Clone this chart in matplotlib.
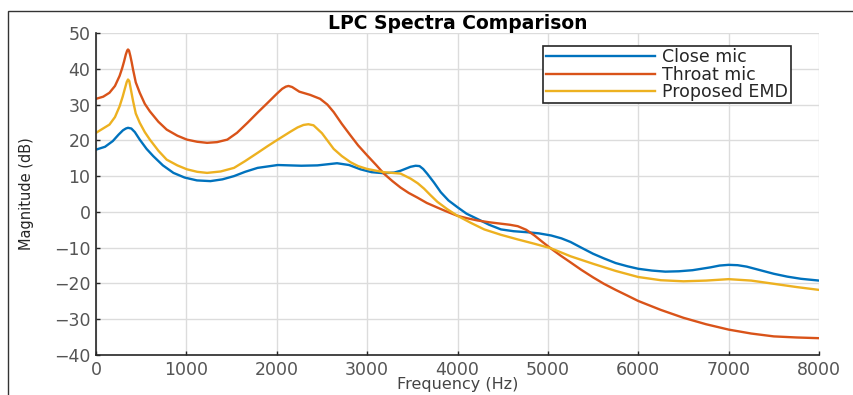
import matplotlib
matplotlib.use("Agg")
import matplotlib.pyplot as plt
from matplotlib.patches import Rectangle

# values (Hz, dB)
close_f = [0, 100, 186, 250, 298, 330, 354, 391, 430, 484, 560, 633, 740, 857, 980, 1117, 1266,
           1400, 1527, 1650, 1788, 2011, 2272, 2450, 2667, 2800, 2926, 3050, 3185, 3300, 3370,
           3430, 3480, 3537, 3580, 3620, 3667, 3740, 3815, 3900, 4000, 4100, 4222, 4350, 4481,
           4620, 4778, 4900, 5037, 5150, 5250, 5370, 5500, 5620, 5750, 5880, 6000, 6150, 6300,
           6450, 6600, 6800, 6900, 7000, 7100, 7200, 7350, 7500, 7650, 7800, 8000]
close_db = [17.4, 18.2, 19.8, 21.6, 22.8, 23.3, 23.5, 23.3, 22.3, 20.2, 17.6, 15.6, 13.0, 10.9, 9.6, 8.8, 8.6,
            9.1, 10.0, 11.2, 12.3, 13.1, 12.9, 13.0, 13.6, 13.1, 11.9, 11.1, 10.8, 11.0, 11.5,
            12.1, 12.6, 12.9, 12.8, 12.0, 10.6, 8.2, 5.5, 3.2, 1.3, -0.5, -2.0, -3.6, -4.9,
            -5.4, -5.7, -6.0, -6.6, -7.4, -8.4, -10.0, -11.7, -13.0, -14.3, -15.2, -15.9, -16.4, -16.7,
            -16.6, -16.3, -15.5, -15.0, -14.8, -14.9, -15.3, -16.3, -17.3, -18.1, -18.7, -19.2]

throat_f = [0, 80, 149, 210, 261, 290, 310, 330, 345, 354, 365, 380, 395, 410, 440, 484, 540, 596,
            690, 782, 900, 1006, 1120, 1229, 1340, 1453, 1560, 1676, 1790, 1900, 2000, 2060, 2100,
            2130, 2170, 2250, 2370, 2480, 2560, 2630, 2720, 2815, 2900, 3000, 3100, 3185, 3280,
            3370, 3460, 3556, 3660, 3778, 3890, 4000, 4110, 4222, 4350, 4481, 4580, 4667, 4760,
            4852, 4940, 5037, 5140, 5250, 5370, 5500, 5620, 5750, 5880, 6000, 6250, 6500, 6750,
            7000, 7250, 7500, 7750, 8000]
throat_db = [31.6, 32.2, 33.3, 35.2, 38.0, 40.2, 42.0, 44.0, 45.1, 45.4, 45.1, 43.6, 41.8, 39.8, 36.2, 33.3, 30.2, 28.1,
             25.2, 23.0, 21.3, 20.2, 19.6, 19.3, 19.5, 20.2, 22.1, 24.9, 27.8, 30.5, 33.0, 34.4, 35.0,
             35.2, 34.9, 33.6, 32.7, 31.6, 30.0, 27.9, 24.6, 21.4, 18.6, 15.8, 13.1, 10.7, 8.6,
             6.8, 5.3, 4.0, 2.5, 1.2, 0.0, -1.1, -1.8, -2.4, -2.9, -3.3, -3.6, -4.0, -5.0,
             -6.6, -8.4, -10.3, -12.2, -14.1, -16.2, -18.3, -20.1, -21.8, -23.4, -24.9, -27.4, -29.6, -31.4,
             -32.9, -34.0, -34.8, -35.1, -35.3]

emd_f = [0, 149, 210, 261, 295, 320, 340, 354, 368, 380, 395, 410, 440, 484, 540, 596, 690, 782,
         900, 1006, 1120, 1229, 1380, 1527, 1650, 1788, 1900, 2011, 2150, 2230, 2296, 2350, 2407,
         2500, 2630, 2720, 2815, 2900, 3000, 3185, 3370, 3481, 3560, 3630, 3700, 3778, 3890, 4000,
         4150, 4296, 4480, 4667, 4850, 5037, 5250, 5500, 5750, 6000, 6250, 6500, 6750, 7000, 7250,
         7500, 7750, 8000]
emd_db = [22.1, 24.4, 26.5, 29.5, 32.2, 34.5, 36.3, 37.0, 36.6, 35.0, 33.0, 31.0, 27.5, 24.9, 22.3, 20.2, 17.1, 14.6,
          13.0, 11.9, 11.2, 10.9, 11.3, 12.3, 14.2, 16.5, 18.4, 20.2, 22.4, 23.6, 24.3, 24.5, 24.2,
          22.0, 17.6, 15.6, 13.9, 12.8, 12.0, 11.1, 10.7, 9.3, 8.0, 6.5, 4.7, 2.8, 0.7, -1.1,
          -3.1, -4.9, -6.4, -7.7, -8.9, -10.2, -12.4, -14.5, -16.5, -18.2, -19.1, -19.4, -19.2, -18.8, -19.2,
          -20.1, -21.0, -21.8]

labels = ["Close mic", "Throat mic", "Proposed EMD"]
colors = ["#0072BD", "#D95319", "#EDB120"]

fig = plt.figure(figsize=(8.54, 3.95), dpi=100)
ax = fig.add_axes([96 / 854, 40 / 395, 723 / 854, 322 / 395])

for f, db, lab, c in zip([close_f, throat_f, emd_f], [close_db, throat_db, emd_db], labels, colors):
    ax.plot(f, db, color=c, lw=1.7, label=lab)

ax.set_xlim(0, 8000)
ax.set_ylim(-40, 50)
ax.set_xticks(range(0, 8001, 1000))
ax.set_yticks(range(-40, 51, 10))
ax.grid(True, color="#dcdcdc", lw=1)
ax.set_axisbelow(True)

for s in ["top", "right"]:
    ax.spines[s].set_visible(False)
for s in ["left", "bottom"]:
    ax.spines[s].set_color("#262626")
    ax.spines[s].set_linewidth(1.2)

ax.tick_params(direction="in", length=3, width=1, colors="#262626",
               labelcolor="#555555", labelsize=12.5, pad=4)

ax.set_title("LPC Spectra Comparison", fontsize=13.5, fontweight="bold", pad=3)
ax.set_ylabel("Magnitude (dB)", fontsize=10.5, color="#262626", labelpad=14)
ax.set_xlabel("Frequency (Hz)", fontsize=11.5, color="#444444", labelpad=-1)

leg = ax.legend(loc="upper right", bbox_to_anchor=(0.961, 0.96), fontsize=12.5,
                frameon=True, fancybox=False, edgecolor="#262626", framealpha=1,
                handlelength=6.3, handletextpad=0.4, labelspacing=-0.05, borderpad=0.15,
                borderaxespad=0)
leg.get_frame().set_linewidth(1.2)
for t in leg.get_texts():
    t.set_color("#262626")

# outer frame of the original figure
fig.add_artist(Rectangle((8 / 854, -0.1), 1.5, 1 - 11 / 395 + 0.1, transform=fig.transFigure,
                         fill=False, edgecolor="#333333", lw=1))

fig.savefig("out.png", dpi=100)
